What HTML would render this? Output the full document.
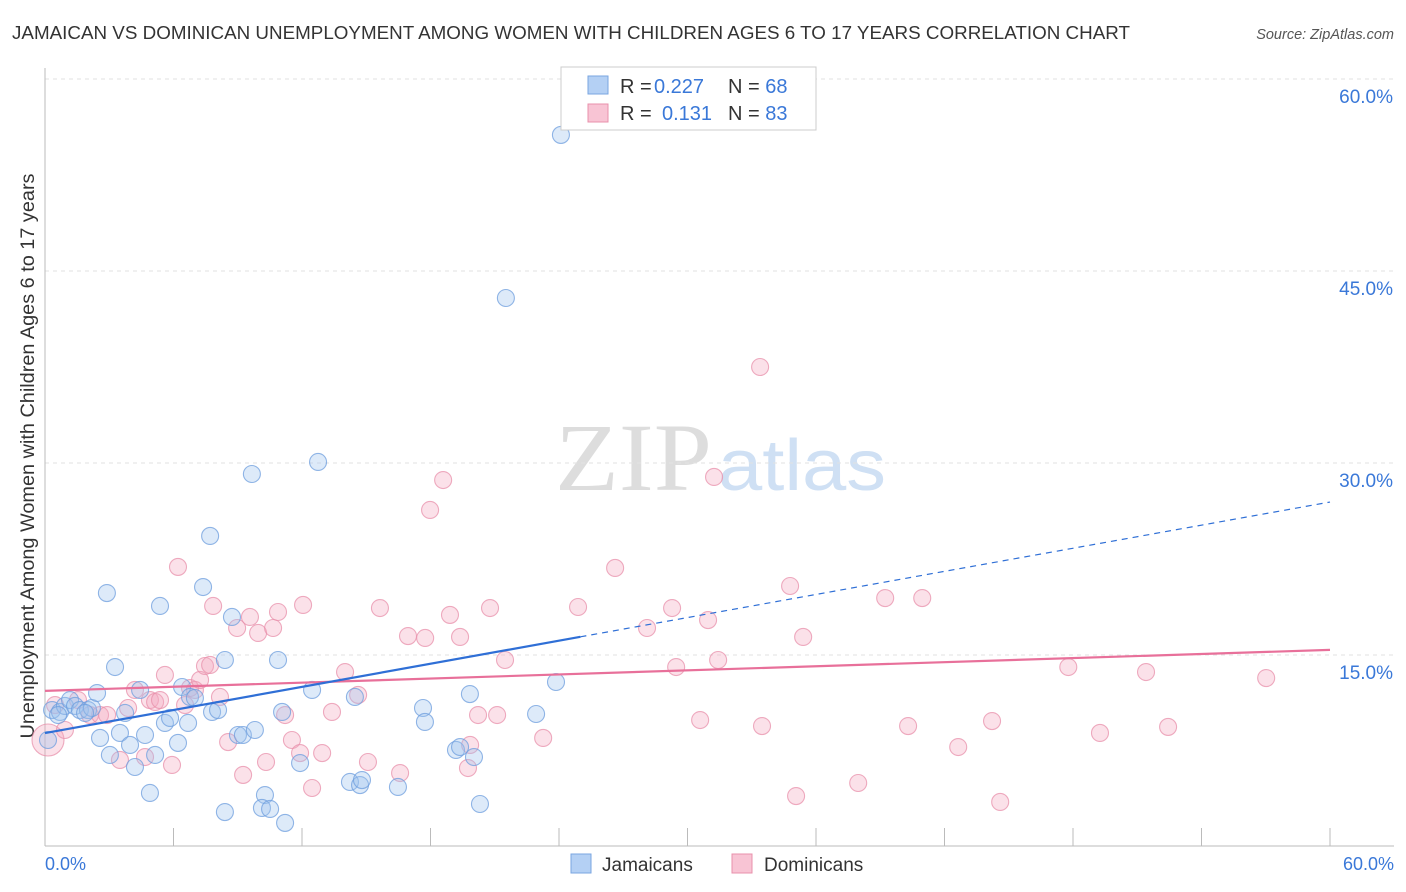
<!DOCTYPE html>
<html><head><meta charset="utf-8"><style>
body{margin:0;background:#fff;font-family:"Liberation Sans",sans-serif;}
#wrap{position:relative;width:1406px;height:892px;overflow:hidden;}
</style></head><body>
<div id="wrap">
<svg id="svg" width="1406" height="892" xmlns="http://www.w3.org/2000/svg">
<text x="12" y="39" font-size="18" fill="#333" textLength="1118" lengthAdjust="spacingAndGlyphs">JAMAICAN VS DOMINICAN UNEMPLOYMENT AMONG WOMEN WITH CHILDREN AGES 6 TO 17 YEARS CORRELATION CHART</text>
<text x="1394" y="39" font-size="14.5" fill="#555" font-style="italic" text-anchor="end">Source: ZipAtlas.com</text>
<text x="555" y="490" font-size="96" fill="#ddd" font-family="Liberation Serif,serif" textLength="157" lengthAdjust="spacingAndGlyphs">ZIP</text>
<text x="718" y="490" font-size="72" fill="#cfe0f4" textLength="168" lengthAdjust="spacingAndGlyphs">atlas</text>
<text transform="translate(34,456) rotate(-90)" font-size="19" fill="#333" text-anchor="middle" textLength="565" lengthAdjust="spacingAndGlyphs">Unemployment Among Women with Children Ages 6 to 17 years</text>
<g id="grid"></g><g id="marks"></g><g id="lines"></g>
<rect x="561" y="67" width="255" height="63" fill="#fff" stroke="#ccc"/>
<rect x="588" y="76" width="20" height="18" fill="#b4d0f4" stroke="#7aa6e0"/>
<rect x="588" y="104" width="20" height="18" fill="#f8c4d4" stroke="#e890ab"/>
<text x="620" y="93" font-size="20" fill="#333">R = <tspan fill="#3a78d8" x="654">0.227</tspan><tspan x="728" fill="#333">N = </tspan><tspan fill="#3a78d8">68</tspan></text>
<text x="620" y="120" font-size="20" fill="#333">R = <tspan fill="#3a78d8" x="662">0.131</tspan><tspan x="728" fill="#333">N = </tspan><tspan fill="#3a78d8">83</tspan></text>
<rect x="571" y="854" width="20" height="19" fill="#b4d0f4" stroke="#7aa6e0"/>
<text x="602" y="871" font-size="19" fill="#333">Jamaicans</text>
<rect x="732" y="854" width="20" height="19" fill="#f8c4d4" stroke="#e890ab"/>
<text x="764" y="871" font-size="19" fill="#333">Dominicans</text>
<text x="45" y="870" font-size="18" fill="#3a78d8">0.0%</text>
<text x="1394" y="870" font-size="18" fill="#3a78d8" text-anchor="end">60.0%</text>
</svg>
</div>
<script>
const yTicks=[15,30,45,60];
const yTickLabels=["15.0%","30.0%","45.0%","60.0%"];
const xTicks=[0,6,12,18,24,30,36,42,48,54,60];
const blueX=[0.33,0.70,0.93,1.17,1.40,1.63,2.01,2.19,2.43,2.57,2.89,3.03,3.27,3.50,3.97,4.20,4.44,4.67,4.90,5.14,5.37,5.60,5.84,6.21,6.40,6.68,6.77,7.00,7.38,7.71,7.80,8.08,8.40,8.73,8.40,9.01,9.24,9.66,9.80,10.27,10.13,10.51,10.88,11.07,11.21,11.91,12.47,12.75,14.24,14.47,14.71,14.80,16.48,17.65,17.74,19.19,19.38,20.03,19.84,20.31,21.52,22.93,23.86,24.09,0.14,0.61,1.87,3.74];
const blueY=[10.70,10.55,11.02,11.48,11.02,10.70,10.70,10.86,12.03,8.52,19.84,7.19,14.06,8.91,7.97,6.25,12.27,8.75,4.22,7.19,18.83,9.69,10.08,8.13,12.50,9.69,11.72,11.64,20.31,24.30,10.55,10.70,14.61,17.97,2.73,8.75,8.75,29.14,9.14,4.06,3.05,2.97,14.61,10.55,1.88,6.56,12.27,30.08,5.08,11.72,4.84,5.23,4.69,10.86,9.77,7.58,7.81,7.03,11.95,3.36,42.89,10.39,12.89,55.63,8.36,10.31,10.47,10.47];
const pinkX=[0.14,0.47,0.93,1.54,2.10,2.57,2.90,3.50,3.88,4.20,4.67,4.90,5.14,5.37,5.60,5.93,6.21,6.54,6.77,7.00,7.24,7.47,7.71,7.85,8.17,8.55,8.97,9.25,9.57,9.95,10.32,10.65,10.88,11.21,11.53,11.91,12.05,12.47,12.94,13.40,14.01,14.62,15.08,15.64,16.58,16.95,17.75,17.98,18.59,18.91,19.38,19.75,19.85,20.22,20.78,21.11,21.48,23.26,24.89,26.62,28.11,29.28,29.47,30.59,30.96,31.43,31.24,33.39,33.48,34.79,35.07,35.40,37.97,39.23,40.30,40.96,42.64,44.22,44.60,47.78,49.26,51.41,52.44,57.02];
const pinkY=[8.36,11.09,9.14,11.48,10.31,10.31,10.31,6.80,10.86,12.27,7.03,11.48,11.33,11.48,13.44,6.41,21.88,11.09,12.42,12.27,13.05,14.14,14.22,18.83,11.72,8.20,17.11,5.63,17.97,16.72,6.64,17.11,18.36,10.31,8.36,7.34,18.91,4.61,7.34,10.55,13.67,11.88,6.64,18.67,5.78,16.48,16.33,26.33,28.67,18.13,16.41,6.17,7.97,10.31,18.67,10.31,14.61,8.52,18.75,21.80,17.11,18.67,14.06,9.92,17.73,14.61,28.91,37.50,9.45,20.39,3.98,16.41,5.00,19.45,9.45,19.45,7.81,9.84,3.52,14.06,8.91,13.67,9.38,13.20];
const blueTrend=[8.9,26.95];
const blueSolidEnd=25;
const pinkTrend=[12.2,15.4];

const X=v=>45+v/60*1285;
const Y=v=>847-v/15*192;
const NS="http://www.w3.org/2000/svg";
function mk(tag,attrs,parent){const e=document.createElementNS(NS,tag);for(const k in attrs)e.setAttribute(k,attrs[k]);parent.appendChild(e);return e;}
const grid=document.getElementById('grid'),marks=document.getElementById('marks'),lines=document.getElementById('lines');
yTicks.forEach((t,i)=>{
  const l=mk('line',{x1:45,x2:1394,y1:Y(t),y2:Y(t),stroke:'#e2e2e2','stroke-dasharray':'4,4'},grid);
  
  
  const tx=mk('text',{x:1393,y:Y(t)+24,'font-size':19,fill:'#3a78d8','text-anchor':'end'},grid);
  tx.textContent=yTickLabels[i];
  
  
});
const ax=mk('line',{x1:45,x2:1394,y1:846,y2:846,stroke:'#bbb'},grid);


const ay=mk('line',{x1:45,x2:45,y1:68,y2:846,stroke:'#bbb'},grid);


xTicks.forEach(t=>{
  const l=mk('line',{x1:X(t),x2:X(t),y1:828,y2:846,stroke:'#bbb'},grid);
  
  
});
function pts(xs,ys,fill,stroke,name){
  xs.forEach((x,i)=>{
    const r=(i===0&&x<0.2)?16:8.5;
    const c=mk('circle',{cx:X(x),cy:Y(ys[i]),r:r,fill:fill,'fill-opacity':0.35,stroke:stroke,'stroke-width':1.1,'stroke-opacity':0.75},marks);
    
    
  });
}
pts(pinkX,pinkY,'#f4a9c0','#e890ab','dominican-point');
pts(blueX,blueY,'#9fc2ee','#6d9ddd','jamaican-point');
const bAt=x=>blueTrend[0]+(blueTrend[1]-blueTrend[0])*x/60;
const pAt=x=>pinkTrend[0]+(pinkTrend[1]-pinkTrend[0])*x/60;
let l=mk('line',{x1:X(0),y1:Y(pAt(0)),x2:X(60),y2:Y(pAt(60)),stroke:'#e8709a','stroke-width':2.2},lines);


l=mk('line',{x1:X(0),y1:Y(bAt(0)),x2:X(blueSolidEnd),y2:Y(bAt(blueSolidEnd)),stroke:'#2f6fd6','stroke-width':2.2},lines);


l=mk('line',{x1:X(blueSolidEnd),y1:Y(bAt(blueSolidEnd)),x2:X(60),y2:Y(bAt(60)),stroke:'#2f6fd6','stroke-width':1.2,'stroke-dasharray':'6,5'},lines);


</script>
</body></html>
